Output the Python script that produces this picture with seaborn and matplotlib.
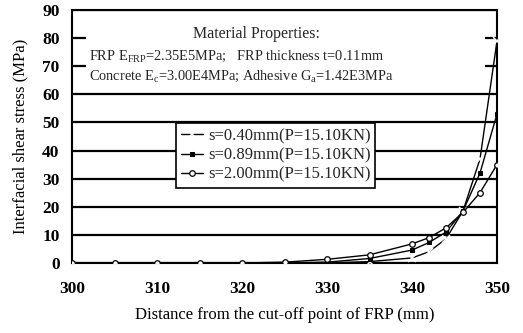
import matplotlib
matplotlib.use("Agg")
import matplotlib.pyplot as plt
import seaborn as sns
import pandas as pd
from matplotlib.patches import Rectangle

# ---- data ----
distance = [300, 305, 310, 315, 320, 325, 330, 335, 340, 342, 344, 346, 348, 350]
s040 = [0, 0, 0, 0, 0, 0, 0.0, 0.5, 1.8, 4.0, 8.6, 18.5, 37, 79]
s089 = [0, 0, 0, 0, 0, 0, 0.3, 1.6, 4.6, 7.3, 11.0, 18.5, 32, 53]
s200 = [0, 0, 0, 0, 0, 0.3, 1.3, 2.9, 6.8, 9.0, 12.5, 18.0, 25, 35]
labels = ["s=0.40mm(P=15.10KN)", "s=0.89mm(P=15.10KN)", "s=2.00mm(P=15.10KN)"]
x_ticks = [300, 310, 320, 330, 340, 350]
y_ticks = [0, 10, 20, 30, 40, 50, 60, 70, 80, 90]

sns.set_theme(style="white")
plt.rcParams["font.family"] = ["Liberation Serif", "DejaVu Serif"]
plt.rcParams["mathtext.fontset"] = "custom"
plt.rcParams["mathtext.rm"] = "Liberation Serif"
plt.rcParams["mathtext.it"] = "Liberation Serif"

fig = plt.figure(figsize=(5.23, 3.33), dpi=100)
ax = fig.add_axes([72 / 523, 1 - 263 / 333, 425 / 523, 253 / 333])

series = [s040, s089, s200]
styles = [
    dict(marker="x", markersize=5.5, markeredgewidth=1.1),
    dict(marker="s", markersize=3.4, markerfacecolor="black", markeredgecolor="black"),
    dict(marker="o", markersize=4.0, markerfacecolor="white", markeredgecolor="black", markeredgewidth=0.9),
]
for vals, lab, st in zip(series, labels, styles):
    df = pd.DataFrame({"d": distance, "v": vals})
    sns.lineplot(data=df, x="d", y="v", ax=ax, color="black", linewidth=1.0,
                 label=lab, zorder=3, **st)

ax.set_xlim(300, 350)
ax.set_ylim(0, 90)
ax.set_xticks(x_ticks)
ax.set_yticks(y_ticks)
ax.set_xticklabels([str(t) for t in x_ticks], fontsize=12.5, fontweight="bold")
ax.set_yticklabels([str(t) for t in y_ticks], fontsize=12.5, fontweight="bold")
ax.tick_params(axis="y", length=0, pad=9, colors="black")
ax.tick_params(axis="x", length=0, pad=13, colors="black")
ax.yaxis.grid(True, color="black", linewidth=1.6, zorder=0.5)
ax.xaxis.grid(False)
ax.set_axisbelow(True)
for sp in ax.spines.values():
    sp.set_color("black")
    sp.set_linewidth(1.5)

ax.set_xlabel("Distance from the cut-off point of FRP (mm)", fontsize=12, labelpad=7, color="black")
ax.set_ylabel("Interfacial shear stress (MPa)", fontsize=12, labelpad=10, color="black")

# white panel for material properties
ax.add_patch(Rectangle((0.033, 0.704), 0.939, 0.276, transform=ax.transAxes,
                       facecolor="white", edgecolor="none", zorder=1))
ax.text(0.284, 0.905, "Material Properties:", transform=ax.transAxes, fontsize=11.5,
        ha="left", va="center", zorder=2)
ax.text(0.04, 0.818, "FRP E$_{\\rm FRP}$=2.35E5MPa;   FRP thickness t=0.11mm",
        transform=ax.transAxes, fontsize=10.4, ha="left", va="center", zorder=2)
ax.text(0.04, 0.739, "Concrete E$_{\\rm c}$=3.00E4MPa; Adhesive G$_{\\rm a}$=1.42E3MPa",
        transform=ax.transAxes, fontsize=10.4, ha="left", va="center", zorder=2)

leg = ax.legend(loc="upper left", bbox_to_anchor=(0.245, 0.553), fontsize=12,
                frameon=True, fancybox=False, framealpha=1, edgecolor="black",
                handlelength=1.3, handletextpad=0.3, borderpad=0.3, labelspacing=0.2,
                borderaxespad=0)
leg.get_frame().set_linewidth(1.2)
leg.set_zorder(5)

fig.savefig("out.png", dpi=100)
